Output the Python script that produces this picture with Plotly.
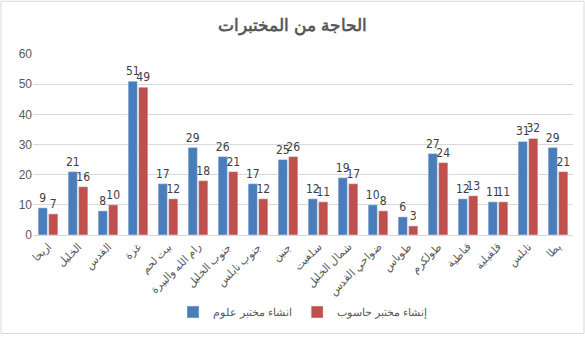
import plotly.graph_objects as go

categories = ["اريحا", "الخليل", "القدس", "غزة", "بيت لحم", "رام الله والبيرة",
              "جنوب الخليل", "جنوب نابلس", "جنين", "سلفيت", "شمال الخليل",
              "ضواحي القدس", "طوباس", "طولكرم", "قباطية", "قلقيلية", "نابلس", "يطا"]
science_labs = [9, 21, 8, 51, 17, 29, 26, 17, 25, 12, 19, 10, 6, 27, 12, 11, 31, 29]
computer_labs = [7, 16, 10, 49, 12, 18, 21, 12, 26, 11, 17, 8, 3, 24, 13, 11, 32, 21]
series_names = ["انشاء مختبر علوم", "إنشاء مختبر حاسوب"]
y_ticks = [0, 10, 20, 30, 40, 50, 60]

W, H = 585, 337
ml, mr, mt, mb = 33, 12, 54, 101
font_family = "Liberation Sans, Arial, sans-serif"
label_font = dict(size=12, color="#404040",
                  family="Liberation Sans Narrow, DejaVu Sans Condensed, sans-serif")

fig = go.Figure()
fig.add_trace(go.Bar(
    x=categories, y=science_labs, name=series_names[0],
    marker=dict(color="#4a7ebb"),
    text=science_labs, textposition="outside", cliponaxis=False,
    textfont=label_font,
))
fig.add_trace(go.Bar(
    x=categories, y=computer_labs, name=series_names[1],
    marker=dict(color="#c0504d"),
    text=computer_labs, textposition="outside", cliponaxis=False,
    textfont=label_font,
))

fig.update_layout(
    width=W, height=H,
    margin=dict(l=ml, r=mr, t=mt, b=mb),
    paper_bgcolor="white", plot_bgcolor="white",
    font=dict(family=font_family, color="#595959", size=11),
    title=dict(text="<b>الحاجة من المختبرات</b>", x=0.5, xanchor="center",
               y=1 - 25 / H, yanchor="middle",
               font=dict(size=17, color="#595959")),
    barmode="group", bargap=0.3, bargroupgap=0.12,
    showlegend=True,
    legend=dict(orientation="h", x=0.5, xanchor="center",
                y=-(312 - (H - mb)) / (H - mt - mb), yanchor="middle",
                font=dict(size=11, color="#595959"),
                traceorder="normal"),
    uniformtext=dict(minsize=12, mode="show"),
)
fig.update_xaxes(tickangle=-45, tickfont=dict(size=11, color="#595959"),
                 showline=True, linecolor="#d9d9d9", ticks="")
fig.update_yaxes(range=[0, 60], tickvals=y_ticks, showgrid=True,
                 gridcolor="#d9d9d9", zeroline=False,
                 tickfont=dict(size=12, color="#595959"), ticks="")

# light outer frame around the chart area
pw = W - ml - mr
ph = H - mt - mb
fig.add_shape(type="rect", xref="paper", yref="paper",
              x0=(1 - ml) / pw, x1=(W - 1 - ml) / pw,
              y0=-(H - 2 - (H - mb)) / ph, y1=1 + (mt - 1) / ph,
              line=dict(color="#d9d9d9", width=1), fillcolor="rgba(0,0,0,0)",
              layer="below")

fig.write_html("out.html")
